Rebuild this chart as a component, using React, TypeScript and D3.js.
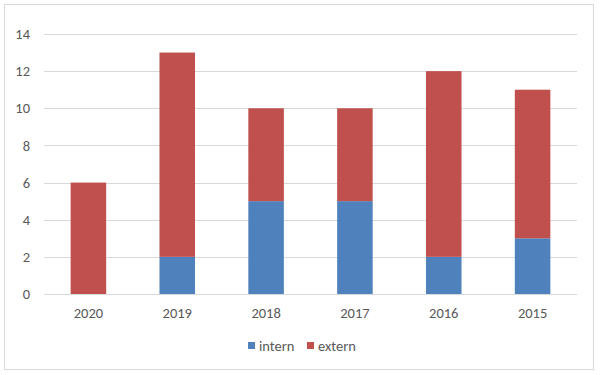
import React from "react";
import * as d3 from "d3";

const years = ["2020", "2019", "2018", "2017", "2016", "2015"];
const intern = [0, 2, 5, 5, 2, 3];
const extern = [6, 11, 5, 5, 10, 8];
const yTicks = [0, 2, 4, 6, 8, 10, 12, 14];
const seriesNames = ["intern", "extern"];
const colors = ["#4F81BD", "#C0504D"];

export default function App() {
  const W = 600, H = 375;
  const left = 44, right = 577, top = 34, bottom = 294;
  const x = d3.scaleBand<string>().domain(years).range([left, right]).padding(0);
  const y = d3.scaleLinear().domain([0, 14]).range([bottom, top]);
  const bw = x.bandwidth() * 0.4;
  const rows = years.map((yr, i) => ({ year: yr, intern: intern[i], extern: extern[i] }));
  const stack = d3.stack<any>().keys(seriesNames)(rows);
  const font = "Carlito, 'Open Sans', 'Liberation Sans', sans-serif";
  return (
    <svg width={W} height={H} style={{ position: "absolute", left: 0, top: 0 }}>
      <rect x={0} y={0} width={W} height={H} fill="#fff" />
      <rect x={4.5} y={4.5} width={589} height={365} fill="#fff" stroke="#d9d9d9" strokeWidth={1} />
      {yTicks.map((t) => (
        <g key={t}>
          <line x1={left} x2={right} y1={Math.round(y(t)) + 0.5} y2={Math.round(y(t)) + 0.5} stroke="#d9d9d9" strokeWidth={1} />
          <text x={30} y={y(t)} dy="0.35em" textAnchor="end" fontSize={14.5} fill="#595959" fontFamily={font}>{t}</text>
        </g>
      ))}
      {stack.map((s, si) => (
        <g key={s.key} fill={colors[si]}>
          {s.map((d, i) => (
            <rect key={i} x={(x(years[i]) as number) + x.bandwidth() / 2 - bw / 2} y={y(d[1])} width={bw} height={y(d[0]) - y(d[1])} />
          ))}
        </g>
      ))}
      {years.map((yr) => (
        <text key={yr} x={(x(yr) as number) + x.bandwidth() / 2} y={313} dy="0.35em" textAnchor="middle" fontSize={14.5} fill="#595959" fontFamily={font}>{yr}</text>
      ))}
      <g>
        {seriesNames.map((n, i) => {
          const lx = i === 0 ? 248 : 307;
          return (
            <g key={n}>
              <rect x={lx} y={342} width={7} height={7} fill={colors[i]} />
              <text x={lx + 11} y={346} dy="0.35em" fontSize={14.5} fill="#595959" fontFamily={font}>{n}</text>
            </g>
          );
        })}
      </g>
    </svg>
  );
}
